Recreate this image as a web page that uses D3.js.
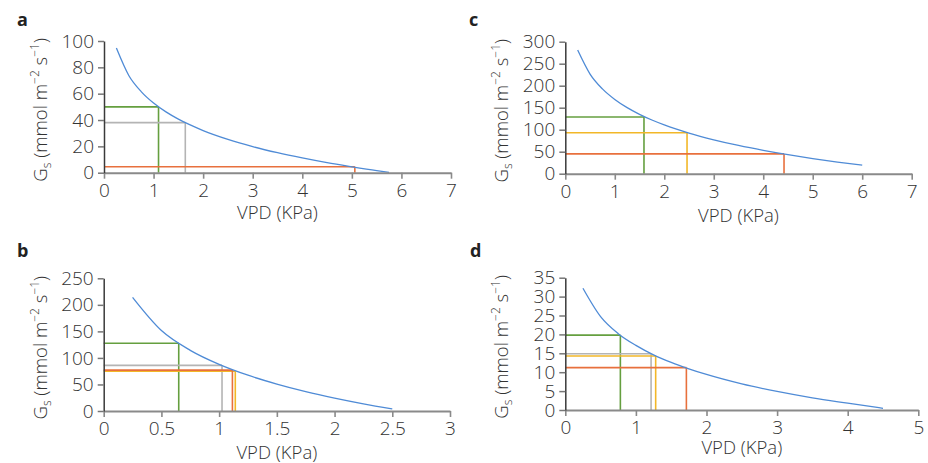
<!DOCTYPE html>
<html>
<head>
<meta charset="utf-8">
<script src="https://cdn.jsdelivr.net/npm/d3@7"></script>
<style>
  body { margin: 0; background: #fff; }
  svg text { font-family: "Open Sans", "DejaVu Sans", sans-serif; font-weight: 300; fill: #333; }
</style>
</head>
<body>
<div id="chart"></div>
<script>
// curve points (VPD in KPa, Gs in mmol m-2 s-1)
const vpdA = [0.25, 0.5, 0.75, 1, 1.25, 1.5, 1.75, 2, 2.5, 3, 3.5, 4, 4.5, 5, 5.5, 5.75];
const gsA  = [94.6, 73.8, 61.6, 52.9, 46.2, 40.7, 36.1, 32.0, 25.3, 19.8, 15.2, 11.2, 7.6, 4.5, 1.6, 0.3];

const vpdB = [0.25, 0.5, 0.75, 1, 1.25, 1.5, 1.75, 2, 2.25, 2.5];
const gsB  = [214, 151.5, 114.3, 87.9, 67.4, 50.7, 36.5, 24.3, 13.5, 3.8];

const vpdC = [0.25, 0.5, 0.75, 1, 1.25, 1.5, 1.75, 2, 2.5, 3, 3.5, 4, 4.5, 5, 5.5, 6];
const gsC  = [281, 226.5, 192.7, 168.7, 150.1, 134.9, 122.0, 110.9, 92.3, 77.1, 64.2, 53.1, 43.3, 34.5, 26.5, 19.5];

const vpdD = [0.25, 0.5, 0.75, 1, 1.25, 1.5, 1.75, 2, 2.5, 3, 3.5, 4, 4.5];
const gsD  = [32.2, 24.7, 20.2, 17.1, 14.6, 12.6, 10.9, 9.4, 6.9, 4.9, 3.2, 1.8, 0.45];

// drop lines: VPD, Gs, colour key
const markA = [[1.1, 50, "green"], [1.64, 38, "gray"], [5.06, 4.5, "red"]];
const markB = [[0.65, 127.5, "green"], [1.025, 86, "gray"], [1.14, 75, "yellow"], [1.115, 77, "red"]];
const markC = [[1.59, 129, "green"], [2.46, 93, "yellow"], [4.42, 45, "red"]];
const markD = [[0.78, 19.8, "green"], [1.215, 14.9, "gray"], [1.28, 14.3, "yellow"], [1.715, 11.2, "red"]];

const yTicksA = [0, 20, 40, 60, 80, 100];
const yTicksB = [0, 50, 100, 150, 200, 250];
const yTicksC = [0, 50, 100, 150, 200, 250, 300];
const yTicksD = [0, 5, 10, 15, 20, 25, 30, 35];
const xTicksA = [0, 1, 2, 3, 4, 5, 6, 7];
const xTicksB = [0, 0.5, 1, 1.5, 2, 2.5, 3];
const xTicksC = [0, 1, 2, 3, 4, 5, 6, 7];
const xTicksD = [0, 1, 2, 3, 4, 5];

const colors = {green: "#659f3f", gray: "#b4b4b4", red: "#e8703d", yellow: "#f2b728"};

const W = 928, H = 463;
const svg = d3.select("#chart").append("svg")
    .attr("width", W)
    .attr("height", H);

const panels = [
  {label: "a", vpd: vpdA, gs: gsA, marks: markA, xt: xTicksA, yt: yTicksA, x0: 104, x1: 451, yb: 172.7, yt0: 41, lx: 17, ly: 26, titleOff: 46.5},
  {label: "b", vpd: vpdB, gs: gsB, marks: markB, xt: xTicksB, yt: yTicksB, x0: 103.7, x1: 450, yb: 411, yt0: 278.3, lx: 17, ly: 257, titleOff: 47.5},
  {label: "c", vpd: vpdC, gs: gsC, marks: markC, xt: xTicksC, yt: yTicksC, x0: 565.3, x1: 911.7, yb: 173.7, yt0: 41.7, lx: 469, ly: 26, titleOff: 48},
  {label: "d", vpd: vpdD, gs: gsD, marks: markD, xt: xTicksD, yt: yTicksD, x0: 565.3, x1: 918.3, yb: 410, yt0: 277.7, lx: 470, ly: 257, titleOff: 44}
];

panels.forEach(p => {
  const g = svg.append("g");
  const x = d3.scaleLinear().domain([0, d3.max(p.xt)]).range([p.x0, p.x1]);
  const y = d3.scaleLinear().domain([0, d3.max(p.yt)]).range([p.yb, p.yt0]);

  // drop lines
  p.marks.forEach(m => {
    const c = colors[m[2]];
    g.append("line")
        .attr("x1", x(0)).attr("x2", x(m[0]))
        .attr("y1", y(m[1])).attr("y2", y(m[1]))
        .attr("stroke", c).attr("stroke-width", 1.6);
    g.append("line")
        .attr("x1", x(m[0])).attr("x2", x(m[0]))
        .attr("y1", y(m[1])).attr("y2", y(0))
        .attr("stroke", c).attr("stroke-width", 1.6);
  });

  // curve
  const pts = p.vpd.map((v, i) => [v, p.gs[i]]);
  g.append("path")
      .datum(pts)
      .attr("fill", "none")
      .attr("stroke", "#4f8bd6")
      .attr("stroke-width", 1.3)
      .attr("d", d3.line().x(d => x(d[0])).y(d => y(d[1])).curve(d3.curveMonotoneX));

  // x axis
  const xa = g.append("g")
      .attr("transform", `translate(0,${p.yb})`)
      .call(d3.axisBottom(x).tickValues(p.xt).tickSize(6).tickPadding(5).tickSizeOuter(0)
        .tickFormat(d3.format("~g")));
  xa.select(".domain").attr("stroke", "#8a8a8a").attr("stroke-width", 2);
  xa.selectAll(".tick line").attr("stroke", "#8a8a8a").attr("stroke-width", 1.6);
  xa.selectAll(".tick text").attr("font-size", 19).attr("font-family", null).attr("fill", "#333");

  // y axis
  const ya = g.append("g")
      .attr("transform", `translate(${p.x0},0)`)
      .call(d3.axisLeft(y).tickValues(p.yt).tickSize(6).tickPadding(4).tickSizeOuter(0));
  ya.select(".domain").attr("stroke", "#3a3a3a").attr("stroke-width", 1.5);
  ya.selectAll(".tick line").attr("stroke", "#777").attr("stroke-width", 1.5);
  ya.selectAll(".tick text").attr("font-size", 19).attr("font-family", null).attr("fill", "#333");

  // x title
  g.append("text")
      .attr("x", (p.x0 + p.x1) / 2)
      .attr("y", p.yb + p.titleOff)
      .attr("text-anchor", "middle")
      .attr("font-size", 18.5)
      .text("VPD (KPa)");

  // y title
  const yt = g.append("text")
      .attr("transform", `translate(${p.x0 - 57},${(p.yb + p.yt0) / 2 + 3}) rotate(-90)`)
      .attr("text-anchor", "middle")
      .attr("font-size", 18.5);
  yt.append("tspan").text("G");
  yt.append("tspan").attr("dy", 4).attr("font-size", 12).text("s");
  yt.append("tspan").attr("dy", -4).text(" (mmol m");
  yt.append("tspan").attr("dy", -8).attr("font-size", 12).text("−2");
  yt.append("tspan").attr("dy", 8).text(" s");
  yt.append("tspan").attr("dy", -8).attr("font-size", 12).text("−1");
  yt.append("tspan").attr("dy", 8).text(")");

  // panel letter
  g.append("text")
      .attr("x", p.lx)
      .attr("y", p.ly)
      .attr("font-size", 18)
      .style("font-weight", "bold")
      .style("fill", "#222")
      .text(p.label);
});
</script>
</body>
</html>
